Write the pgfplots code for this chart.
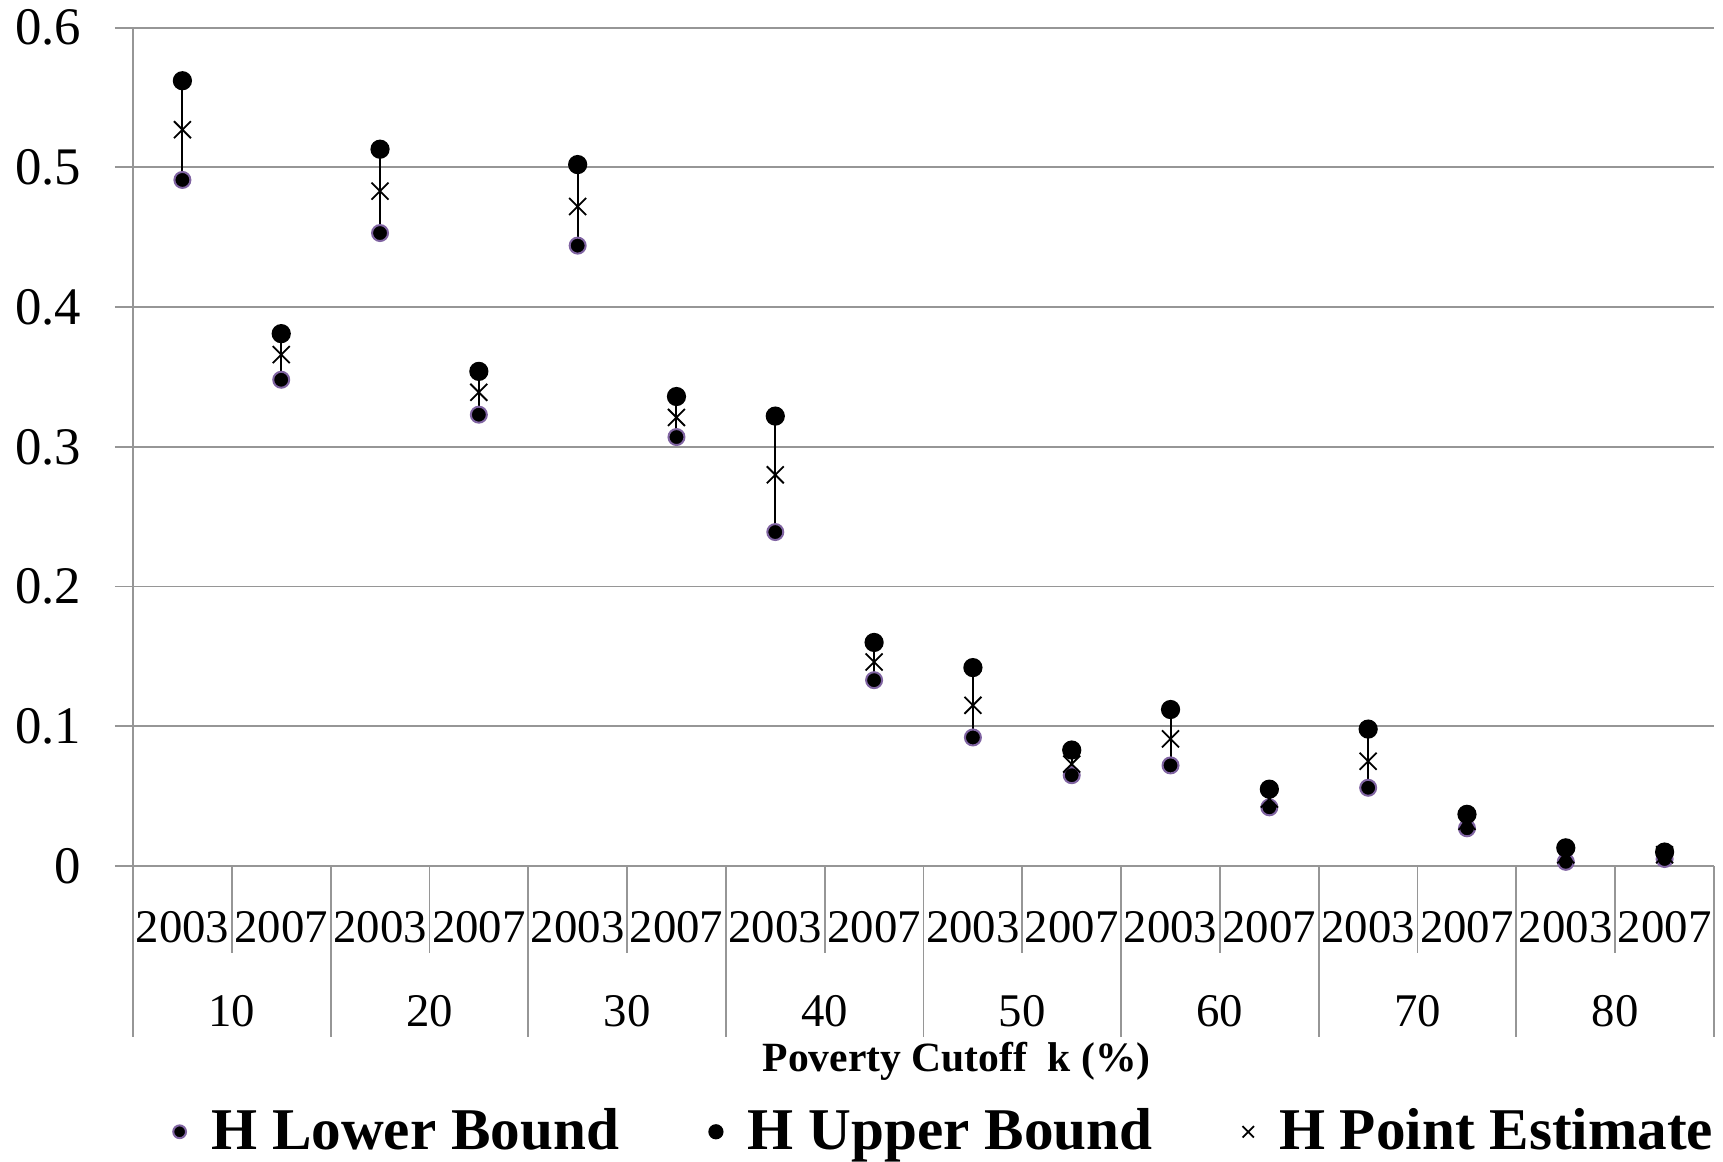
\documentclass[border=0pt]{standalone}
\usepackage{pgfplots}
\pgfplotsset{compat=1.18}
\usepackage{pgfplotstable}
\usepackage{fontspec}
\setmainfont{Liberation Serif}
\definecolor{gridgray}{RGB}{150,150,150}
\definecolor{lopurple}{RGB}{128,100,162}
\pgfplotstableread{
x lo pt up
0 0.491 0.527 0.562
1 0.348 0.366 0.381
2 0.453 0.483 0.513
3 0.323 0.339 0.354
4 0.444 0.472 0.502
5 0.307 0.321 0.336
6 0.239 0.280 0.322
7 0.133 0.146 0.160
8 0.092 0.115 0.142
9 0.065 0.073 0.083
10 0.072 0.091 0.112
11 0.042 0.048 0.055
12 0.056 0.075 0.098
13 0.027 0.032 0.037
14 0.003 0.008 0.013
15 0.005 0.008 0.010
}\datatable
\begin{document}
\begin{tikzpicture}
\path[use as bounding box] (0,0) rectangle (430.75pt,290.25pt);
\begin{axis}[
  at={(33.25pt,73.75pt)}, anchor=south west,
  scale only axis, width=395.25pt, height=209.6pt,
  xmin=-0.5, xmax=15.5, ymin=0, ymax=0.6,
  axis x line=bottom, axis y line=left,
  axis line style={-, draw=gridgray, line width=0.45pt},
  xtick={0,...,15},
  xticklabels={2003,2007,2003,2007,2003,2007,2003,2007,2003,2007,2003,2007,2003,2007,2003,2007},
  x tick style={draw=none},
  xticklabel style={anchor=center, yshift=-10.9pt, font=\fontsize{11.7}{13}\selectfont},
  ytick={0,0.1,0.2,0.3,0.4,0.5,0.6},
  yticklabels={0,0.1,0.2,0.3,0.4,0.5,0.6},
  yticklabel style={anchor=east, inner sep=0pt, xshift=-8.25pt, font=\fontsize{13.2}{15}\selectfont},
  y tick style={draw=gridgray, line width=0.45pt},
  tick align=outside, major tick length=4.5pt,
  ymajorgrids, grid style={draw=gridgray, line width=0.45pt},
  clip=false,
  legend columns=3,
  legend style={draw=none, fill=none, at={(0.515,-0.317)}, anchor=center,
    font=\bfseries\fontsize{14.8}{17}\selectfont,
    /tikz/every even column/.append style={column sep=20.5pt},
    /tikz/every odd column/.append style={column sep=4.3pt}},
  legend cell align=left,
]
\pgfplotsinvokeforeach{0.5,2.5,4.5,6.5,8.5,10.5,12.5,14.5}{
  \draw[gridgray, line width=0.45pt] (axis cs:#1,0) -- ++(0pt,-21.75pt);
}
\pgfplotsinvokeforeach{-0.5,1.5,3.5,5.5,7.5,9.5,11.5,13.5,15.5}{
  \draw[gridgray, line width=0.45pt] (axis cs:#1,0) -- ++(0pt,-42.75pt);
}
\node[font=\fontsize{11.7}{13}\selectfont, yshift=-36.25pt] at (axis cs:0.5,0) {10};
\node[font=\fontsize{11.7}{13}\selectfont, yshift=-36.25pt] at (axis cs:2.5,0) {20};
\node[font=\fontsize{11.7}{13}\selectfont, yshift=-36.25pt] at (axis cs:4.5,0) {30};
\node[font=\fontsize{11.7}{13}\selectfont, yshift=-36.25pt] at (axis cs:6.5,0) {40};
\node[font=\fontsize{11.7}{13}\selectfont, yshift=-36.25pt] at (axis cs:8.5,0) {50};
\node[font=\fontsize{11.7}{13}\selectfont, yshift=-36.25pt] at (axis cs:10.5,0) {60};
\node[font=\fontsize{11.7}{13}\selectfont, yshift=-36.25pt] at (axis cs:12.5,0) {70};
\node[font=\fontsize{11.7}{13}\selectfont, yshift=-36.25pt] at (axis cs:14.5,0) {80};
\node[font=\bfseries\fontsize{10.4}{12}\selectfont, yshift=-48.85pt] at (rel axis cs:0.521,0) {Poverty Cutoff\ \ k (\%)};
% high-low lines
\addplot[draw=none, forget plot, error bars/.cd, y dir=minus, y explicit,
  error mark=none, error bar style={black, line width=0.5pt}]
  table[x=x, y=up, y error minus expr={\thisrow{up}-\thisrow{lo}}] {\datatable};
\addplot[only marks, mark=*, mark size=2pt, mark options={fill=black, draw=lopurple, line width=0.5pt},
  legend image post style={mark size=1.6pt}]
  table[x=x, y=lo] {\datatable};
\addlegendentry{H Lower Bound}
\addplot[only marks, mark=*, mark size=2.2pt, mark options={fill=black, draw=black},
  legend image post style={mark size=1.7pt}]
  table[x=x, y=up] {\datatable};
\addlegendentry{H Upper Bound}
\addplot[only marks, mark=x, mark size=3pt, mark options={draw=black, line width=0.45pt}, black,
  legend image post style={mark size=2pt}]
  table[x=x, y=pt] {\datatable};
\addlegendentry{H Point Estimate}
\end{axis}
\end{tikzpicture}
\end{document}
